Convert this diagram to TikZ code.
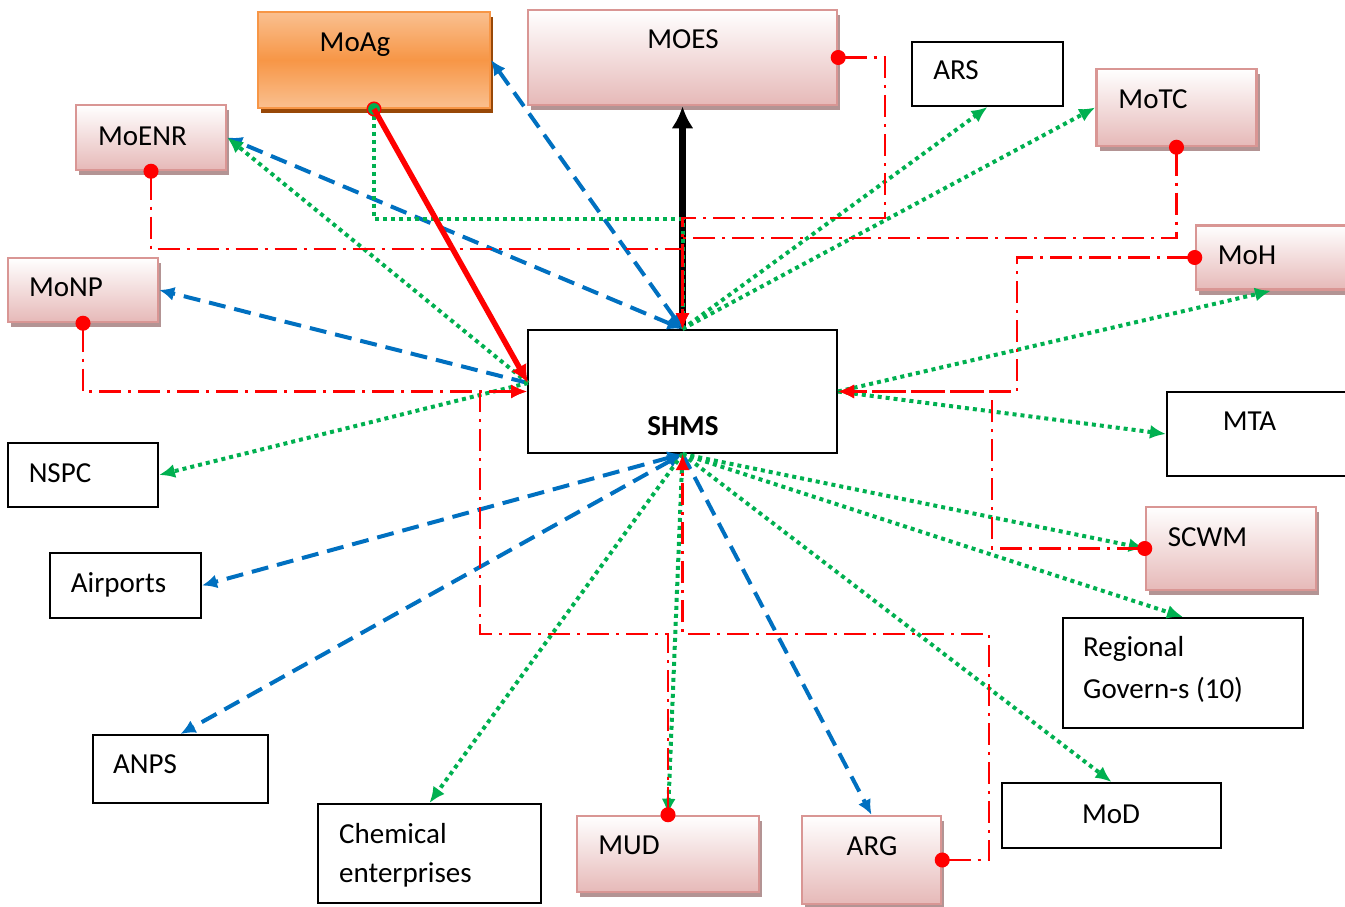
\documentclass[tikz,border=0pt]{standalone}
\usepackage{fontspec}
\setmainfont{Carlito}
\usepackage{tikz}
\usetikzlibrary{arrows.meta, shadows}
\definecolor{LineBlue}{HTML}{0070C0}
\definecolor{LineGreen}{HTML}{00B050}
\definecolor{PinkBot}{HTML}{E6B9B8}
\definecolor{PinkEdge}{HTML}{D99694}
\definecolor{PinkShade}{HTML}{B39494}
\definecolor{OrangeLight}{HTML}{FAC090}
\definecolor{OrangeMid}{HTML}{F79646}
\definecolor{OrangeShade}{HTML}{984807}

\begin{document}
\begin{tikzpicture}[
    x=1pt, y=-1pt,
    font=\fontsize{29}{40}\selectfont,
    plainbox/.style={draw=black, fill=white, line width=2pt, inner sep=0pt},
    pinkbox/.style={draw=PinkEdge, line width=2.5pt, inner sep=0pt,
                    top color=white, bottom color=PinkBot,
                    drop shadow={fill=PinkShade, opacity=1, shadow xshift=3pt, shadow yshift=-5pt}},
    orangebox/.style={draw=OrangeMid, line width=2pt, inner sep=0pt,
                    top color=OrangeLight, bottom color=OrangeLight, middle color=OrangeMid,
                    drop shadow={fill=OrangeShade, opacity=1, shadow xshift=3pt, shadow yshift=-5pt}},
    txt/.style={inner sep=0pt, anchor=base},
    blk/.style={-{Latex[length=22pt, width=22pt]}, line width=7pt, black},
    bdash/.style={LineBlue, line width=4pt, dash pattern=on 17pt off 9pt,
                  -{Latex[length=15pt, width=14pt]}},
    bboth/.style={bdash, {Latex[length=15pt, width=14pt]}-{Latex[length=15pt, width=14pt]}},
    gdot/.style={LineGreen, line width=4pt, dash pattern=on 4pt off 4pt,
                 -{Latex[length=16pt, width=14pt]}},
    rdash/.style={red, line width=2.5pt, dash pattern=on 22pt off 7pt on 3pt off 7pt,
                  {Circle[length=15pt]}-{Latex[length=16pt, width=14pt]}, shorten <=-7.5pt},
    rsolid/.style={red, line width=5.5pt, -{Latex[length=18pt, width=17pt]}}
    ]
    \useasboundingbox (0,0) rectangle (1345,907);

    \node[orangebox, minimum width=232pt, minimum height=96pt] (moag) at (374,60) {};
    \node[pinkbox, minimum width=309pt, minimum height=95pt] (moes) at (682.5,57.5) {};
    \node[pinkbox, minimum width=150pt, minimum height=65pt] (moenr) at (151,137.5) {};
    \node[pinkbox, minimum width=150pt, minimum height=64pt] (monp) at (83,290) {};
    \node[plainbox, minimum width=151pt, minimum height=64pt] (ars) at (987.5,74) {};
    \node[pinkbox, minimum width=160pt, minimum height=77pt] (motc) at (1176.5,107.5) {};
    \node[pinkbox, minimum width=150pt, minimum height=64pt] (moh) at (1271,257.5) {};
    \node[plainbox, minimum width=309pt, minimum height=123pt] (shms) at (682.5,391.5) {};
    \node[plainbox, minimum width=192pt, minimum height=84pt] (mta) at (1263,434) {};
    \node[plainbox, minimum width=150pt, minimum height=64pt] (nspc) at (83,475) {};
    \node[pinkbox, minimum width=170pt, minimum height=83pt] (scwm) at (1231,548.5) {};
    \node[plainbox, minimum width=151pt, minimum height=65pt] (air) at (125.5,585.5) {};
    \node[plainbox, minimum width=240pt, minimum height=110pt] (reg) at (1183,673) {};
    \node[plainbox, minimum width=175pt, minimum height=68pt] (anps) at (180.5,769) {};
    \node[plainbox, minimum width=219pt, minimum height=65pt] (mod) at (1111.5,815.5) {};
    \node[plainbox, minimum width=223pt, minimum height=99pt] (chem) at (429.5,853.5) {};
    \node[pinkbox, minimum width=182pt, minimum height=76pt] (mud) at (668,854) {};
    \node[pinkbox, minimum width=139pt, minimum height=88pt] (arg) at (871.5,860) {};

    \node[txt] (moag-t) at (355,52) {MoAg};
    \node[txt] (moes-t) at (683,49) {MOES};
    \node[txt] (moenr-t) at (142.5,146) {MoENR};
    \node[txt] (monp-t) at (66,296) {MoNP};
    \node[txt] (ars-t) at (956,80) {ARS};
    \node[txt] (motc-t) at (1153,108) {MoTC};
    \node[txt] (moh-t) at (1247,264) {MoH};
    \node[txt, font=\fontsize{29}{40}\selectfont\bfseries] (shms-t) at (683,435) {SHMS};
    \node[txt] (mta-t) at (1249.5,430) {MTA};
    \node[txt] (nspc-t) at (60,482) {NSPC};
    \node[txt] (scwm-t) at (1207.5,546) {SCWM};
    \node[txt] (air-t) at (118.5,592) {Airports};
    \node[txt, anchor=base west, align=left, font=\fontsize{29}{42}\selectfont] (reg-t) at (1083,698)
      {Regional\\Govern-s (10)};
    \node[txt] (anps-t) at (145,773) {ANPS};
    \node[txt] (mod-t) at (1111,823) {MoD};
    \node[txt, anchor=base west, align=left, font=\fontsize{29}{39}\selectfont] (chem-t) at (339,882)
      {Chemical\\enterprises};
    \node[txt] (mud-t) at (629,854) {MUD};
    \node[txt] (arg-t) at (872,855) {ARG};

    \coordinate (shmsw) at (528,383);

    \draw[blk] (shms.north) -- (moes.south);

    \foreach \t in {moag.east, moenr.east}
      \draw[bboth] (shms.north) -- (\t);
    \foreach \t in {air.east, anps.north}
      \draw[bboth] (shms.south) -- (\t);
    \draw[bdash] (shmsw) -- (monp.east);
    \draw[bdash] (shms.south) -- (arg.north);

    \foreach \t in {ars.south, motc.west}
      \draw[gdot] (shms.north) -- (\t);
    \foreach \t in {moenr.east, nspc.east}
      \draw[gdot] (shmsw) -- (\t);
    \foreach \t in {moh.south, mta.west}
      \draw[gdot] (shms.east) -- (\t);
    \foreach \t in {scwm.west, reg.north, mod.north, chem.north, mud.north}
      \draw[gdot] (shms.south) -- (\t);
    \draw[gdot, {Circle[length=15pt, color=red, fill=LineGreen, line width=1.5pt]}-, shorten <=-7.5pt]
      (moag.south) -- (374,219) -| (shms.north);

    \draw[rdash] (moes.east) -| (885,218) -| (shms.north);
    \draw[rdash] (moenr.south) -- (151,249) -| (shms.north);
    \draw[rdash] (motc.south) -- (1176.5,238) -| (shms.north);
    \draw[rdash] (monp.south) |- (shms.west);
    \draw[rdash] (mud.north) |- (480,634) |- (shms.west);
    \draw[rdash] (moh.west) -| (1017,391.5) -- (shms.east);
    \draw[rdash] (scwm.west) -| (992,391.5) -- (shms.east);
    \draw[rdash] (arg.east) -| (989,634) -| (shms.south);

    \draw[rsolid] (moag.south) -- (shmsw);
\end{tikzpicture}
\end{document}
